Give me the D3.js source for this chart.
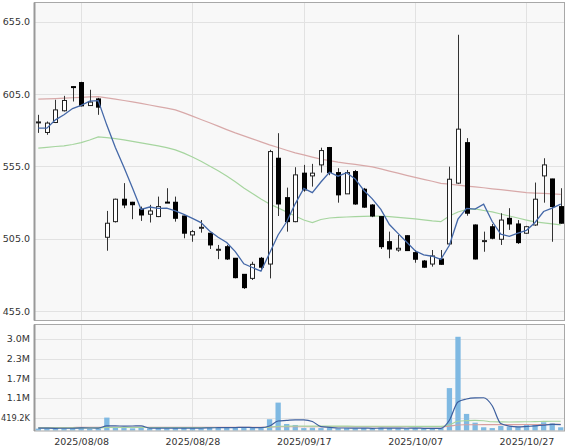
<!DOCTYPE html>
<html><head><meta charset="utf-8">
<script src="https://cdn.jsdelivr.net/npm/d3@7"></script>
<style>
body{margin:0;background:#fff;}
svg{display:block;}
text{font-family:"DejaVu Sans",Verdana,sans-serif;font-size:9.5px;fill:#333;}
</style>
</head><body><svg id="c" width="567" height="446"></svg>
<script>
const dates = ["2025/08/01","2025/08/04","2025/08/05","2025/08/06","2025/08/07","2025/08/08","2025/08/12","2025/08/13","2025/08/14","2025/08/15","2025/08/18","2025/08/19","2025/08/20","2025/08/21","2025/08/22","2025/08/25","2025/08/26","2025/08/27","2025/08/28","2025/08/29","2025/09/01","2025/09/02","2025/09/03","2025/09/04","2025/09/05","2025/09/08","2025/09/09","2025/09/10","2025/09/11","2025/09/12","2025/09/16","2025/09/17","2025/09/18","2025/09/19","2025/09/22","2025/09/24","2025/09/25","2025/09/26","2025/09/29","2025/09/30","2025/10/01","2025/10/02","2025/10/03","2025/10/06","2025/10/07","2025/10/08","2025/10/09","2025/10/10","2025/10/14","2025/10/15","2025/10/16","2025/10/17","2025/10/20","2025/10/21","2025/10/22","2025/10/23","2025/10/24","2025/10/27","2025/10/28","2025/10/29","2025/10/30","2025/10/31"];
const open  = [585.2,578.5,585.4,593.5,610.2,613.0,597.1,601.7,506.1,516.9,532.4,530.3,525.5,522.0,520.4,530.4,530.3,520.8,507.7,512.7,508.9,497.5,499.6,491.6,480.5,477.7,491.6,487.6,560.7,533.5,516.9,550.4,548.5,556.1,568.1,550.8,536.1,551.5,539.3,528.4,520.4,503.1,497.3,507.2,495.5,489.7,487.6,491.1,501.5,543.5,571.5,514.6,503.6,513.4,504.7,519.2,515.3,508.9,514.6,548.5,546.4,527.3];
const high  = [590.7,586.1,601.1,603.8,610.4,613.5,608.0,602.4,524.3,532.8,543.5,530.6,527.3,528.5,534.2,540.0,534.2,521.0,511.2,518.0,509.2,500.8,500.8,491.8,480.7,489.2,492.5,566.5,578.0,540.4,554.5,556.1,556.8,568.0,568.5,553.8,552.6,552.6,540.2,529.0,520.5,510.0,507.7,507.5,497.3,490.4,497.3,497.3,554.9,646.0,574.6,515.0,510.0,515.3,522.7,526.2,518.0,514.0,543.9,560.7,546.5,540.0];
const low   = [578.2,576.9,585.0,593.0,599.9,596.5,596.9,590.7,496.8,516.3,526.2,518.6,517.4,516.3,520.0,529.8,516.9,505.4,503.0,509.3,498.0,491.0,490.4,477.7,470.4,476.6,483.0,477.7,520.8,510.0,516.5,537.6,541.1,550.8,549.0,530.0,536.0,528.5,526.4,520.0,498.0,491.6,496.1,496.6,488.5,485.0,485.8,487.0,501.0,543.0,521.0,490.8,496.1,504.7,500.8,511.2,501.5,508.4,514.0,530.0,503.0,515.5];
const close = [585.8,585.0,594.1,600.6,609.6,596.9,599.5,596.0,515.8,532.4,528.4,528.6,521.5,524.3,527.3,529.9,519.2,508.9,510.0,513.0,500.8,497.8,491.1,478.2,471.3,487.4,485.4,565.3,529.1,516.9,549.2,538.8,550.4,566.0,550.8,535.4,550.8,529.1,526.9,520.8,499.6,498.0,498.5,496.9,490.9,485.4,493.2,487.4,546.2,580.8,522.7,491.1,503.8,505.4,518.0,515.3,502.4,513.4,532.4,556.1,527.3,515.8];
const ma5   = [581.5,581.5,587.2,590.7,595.0,597.2,600.1,600.5,583.6,568.1,554.4,540.2,525.3,527.0,526.0,526.3,524.4,521.9,519.1,516.2,510.4,506.1,502.5,496.2,487.8,485.2,482.7,495.0,507.7,516.8,529.2,539.9,536.9,544.3,551.0,548.3,550.7,546.4,538.6,532.6,525.4,514.9,508.8,502.8,496.8,493.9,493.0,490.8,500.6,518.6,526.1,525.6,528.9,517.0,508.2,506.7,509.0,510.9,516.3,523.9,526.3,529.0];
const ma25  = [567.7,568.2,568.8,569.3,570.2,571.5,573.3,575.5,574.9,574.2,573.4,572.4,571.3,570.3,569.2,568.0,566.5,564.2,561.6,558.6,555.4,552.0,548.5,544.4,540.2,536.4,532.6,529.1,526.4,523.6,520.8,518.0,516.3,518.4,519.4,519.8,520.1,520.3,520.5,520.7,520.8,520.3,519.8,519.3,518.8,518.1,517.4,516.9,520.8,523.6,525.3,525.7,524.6,523.6,522.2,520.8,519.4,518.0,516.7,516.0,515.3,514.6];
const ma75  = [601.5,601.7,601.9,602.2,602.5,602.8,603.1,603.3,602.4,601.5,600.6,599.7,598.6,597.5,596.4,595.3,594.1,592.0,589.8,587.5,585.2,582.9,580.5,578.2,576.2,574.1,572.0,569.9,568.1,566.2,564.4,563.0,561.5,560.1,559.0,558.0,557.2,556.4,555.6,554.7,553.3,551.8,550.4,548.9,547.5,546.1,544.8,543.4,542.8,542.1,541.5,540.9,540.3,539.6,539.0,538.3,537.6,536.9,536.6,536.4,536.1,535.8];
const volume = [60000,70000,80000,70000,90000,110000,60000,70000,420000,90000,80000,70000,90000,70000,80000,70000,80000,90000,80000,70000,110000,100000,90000,100000,110000,80000,80000,366000,908000,212000,180000,80000,90000,80000,90000,70000,80000,70000,80000,60000,90000,80000,70000,70000,80000,60000,70000,80000,1380000,3050000,540000,255000,105000,80000,147000,124000,124000,180000,180000,268000,235000,105000];
const volMa5  = [80000,75000,72000,74000,74000,84000,82000,80000,150000,150000,144000,146000,150000,80000,78000,76000,78000,78000,80000,78000,86000,92000,94000,96000,102000,96000,92000,147000,309000,329000,349000,349000,294000,128000,104000,82000,82000,78000,78000,72000,76000,76000,76000,74000,78000,72000,70000,72000,334000,928000,1024000,1061000,1066000,806000,225000,142000,116000,131000,151000,175000,197000,194000];
const volMa25 = [85000,85000,85000,85000,86000,86000,86000,86000,98000,98000,98000,98000,99000,99000,98000,98000,98000,98000,98000,97000,97000,97000,97000,97000,98000,97000,97000,108000,136000,141000,145000,144000,144000,143000,143000,142000,141000,140000,140000,139000,139000,138000,137000,136000,135000,134000,134000,133000,185000,302000,321000,328000,317000,284000,281000,279000,281000,285000,289000,296000,302000,303000];
const volMa75 = [100000,100000,100000,100000,100000,101000,101000,101000,104000,104000,104000,104000,104000,104000,104000,104000,104000,104000,104000,104000,104000,104000,104000,104000,105000,105000,105000,109000,120000,122000,124000,124000,124000,124000,124000,124000,124000,124000,124000,124000,124000,124000,124000,124000,124000,124000,124000,124000,141000,180000,186000,189000,190000,190000,191000,191000,192000,193000,194000,196000,198000,199000];
const priceTicks = [455, 505, 555, 605, 655];
const volTicks = [419200, 1060000, 1700000, 2340000, 2980000];
const volTickLabels = ["419.2K", "1.1M", "1.7M", "2.3M", "3.0M"];
const xTickDates = ["2025/08/08", "2025/08/28", "2025/09/17", "2025/10/07", "2025/10/27"];

const svg = d3.select("#c");
const L = 34, R = 565;
const mainTop = 2.5, mainBot = 320.5, volTop = 324.5, volBot = 431;

const x = d3.scaleBand().domain(dates).range([L, R]).padding(0);
const cx = d => x(d) + x.bandwidth() / 2;
const y = d3.scaleLinear().domain([448.6, 668.3]).range([mainBot, mainTop]);
const yv = d3.scaleLinear().domain([0, 3.45e6]).range([430.5, volTop]);

function panel(top, bot) {
  svg.append("rect").attr("x", L).attr("y", top).attr("width", R - L).attr("height", bot - top)
    .attr("fill", "#f8f8f8");
}
panel(mainTop, mainBot);
panel(volTop, volBot);

// grid
const gridC = "#e2e2e2";
const gMain = svg.append("g");
priceTicks.forEach(t => {
  const yy = Math.round(y(t)) + 0.5;
  gMain.append("line").attr("x1", L).attr("x2", R).attr("y1", yy).attr("y2", yy).attr("stroke", gridC);
});
volTicks.forEach(t => {
  const yy = Math.round(yv(t)) + 0.5;
  gMain.append("line").attr("x1", L).attr("x2", R).attr("y1", yy).attr("y2", yy).attr("stroke", gridC);
});
xTickDates.forEach(d => {
  const xx = Math.round(cx(d)) + 0.5;
  gMain.append("line").attr("x1", xx).attr("x2", xx).attr("y1", mainTop).attr("y2", mainBot).attr("stroke", gridC);
  gMain.append("line").attr("x1", xx).attr("x2", xx).attr("y1", volTop).attr("y2", volBot).attr("stroke", gridC);
});

// MA lines (price)
const idx = d3.range(dates.length);
const lineP = arr => d3.line().x(i => cx(dates[i])).y(i => y(arr[i]))(idx);
svg.append("path").attr("d", lineP(ma75)).attr("fill", "none").attr("stroke", "#d8a9a9").attr("stroke-width", 1.2);
svg.append("path").attr("d", lineP(ma25)).attr("fill", "none").attr("stroke", "#a6d59f").attr("stroke-width", 1.2);

// candles
const gC = svg.append("g");
idx.forEach(i => {
  const c = Math.round(cx(dates[i]));
  const up = close[i] >= open[i];
  gC.append("line").attr("x1", c + 0.5).attr("x2", c + 0.5)
    .attr("y1", y(high[i])).attr("y2", y(low[i])).attr("stroke", "#333").attr("stroke-width", 1);
  const top = y(Math.max(open[i], close[i])), bot = y(Math.min(open[i], close[i]));
  const h = Math.max(bot - top, 1);
  if (up) {
    gC.append("rect").attr("x", c - 1.5).attr("y", top).attr("width", 4).attr("height", h)
      .attr("fill", "#fff").attr("stroke", "#222").attr("stroke-width", 1);
  } else {
    gC.append("rect").attr("x", c - 2).attr("y", top - 0.5).attr("width", 5).attr("height", h + 1)
      .attr("fill", "#000");
  }
});
svg.append("path").attr("d", lineP(ma5)).attr("fill", "none").attr("stroke", "#4468a8").attr("stroke-width", 1.3);

// volume bars
idx.forEach(i => {
  const c = cx(dates[i]);
  svg.append("rect").attr("x", c - 2.6).attr("width", 5.3)
    .attr("y", yv(volume[i])).attr("height", 430.5 - yv(volume[i])).attr("fill", "#7fb9e2");
});
const lineV = arr => d3.line().curve(d3.curveMonotoneX).x(i => cx(dates[i])).y(i => yv(arr[i]))(idx);
svg.append("path").attr("d", lineV(volMa75)).attr("fill", "none").attr("stroke", "#d8a0a0").attr("stroke-width", 1.1);
svg.append("path").attr("d", lineV(volMa25)).attr("fill", "none").attr("stroke", "#a6d59f").attr("stroke-width", 1.1);
svg.append("path").attr("d", lineV(volMa5)).attr("fill", "none").attr("stroke", "#3d5f9e").attr("stroke-width", 1.2);

// borders
function border(top, bot) {
  svg.append("rect").attr("x", L + 0.5).attr("y", top).attr("width", R - L - 1).attr("height", bot - top)
    .attr("fill", "none").attr("stroke", "#a8a8a8").attr("stroke-width", 1);
  svg.append("line").attr("x1", L + 0.5).attr("x2", L + 0.5).attr("y1", top).attr("y2", bot)
    .attr("stroke", "#999").attr("stroke-width", 2);
}
border(mainTop, mainBot);
border(volTop, volBot);

// labels
const fmt = d3.format(".1f");
priceTicks.forEach(t => {
  svg.append("text").attr("x", 30).attr("y", y(t) + 3.5).attr("text-anchor", "end").text(fmt(t));
});
volTicks.forEach((t, k) => {
  const tx = svg.append("text").attr("x", 30).attr("y", yv(t) + 3.5).attr("text-anchor", "end").text(volTickLabels[k]);
  const w = tx.node().getComputedTextLength();
  if (w > 29) {
    tx.attr("textLength", 29).attr("lengthAdjust", "spacingAndGlyphs");
  }
});
xTickDates.forEach(d => {
  svg.append("text").attr("x", cx(d) + 0.5).attr("y", 444.5).attr("text-anchor", "middle").text(d);
});
</script>
</body></html>
